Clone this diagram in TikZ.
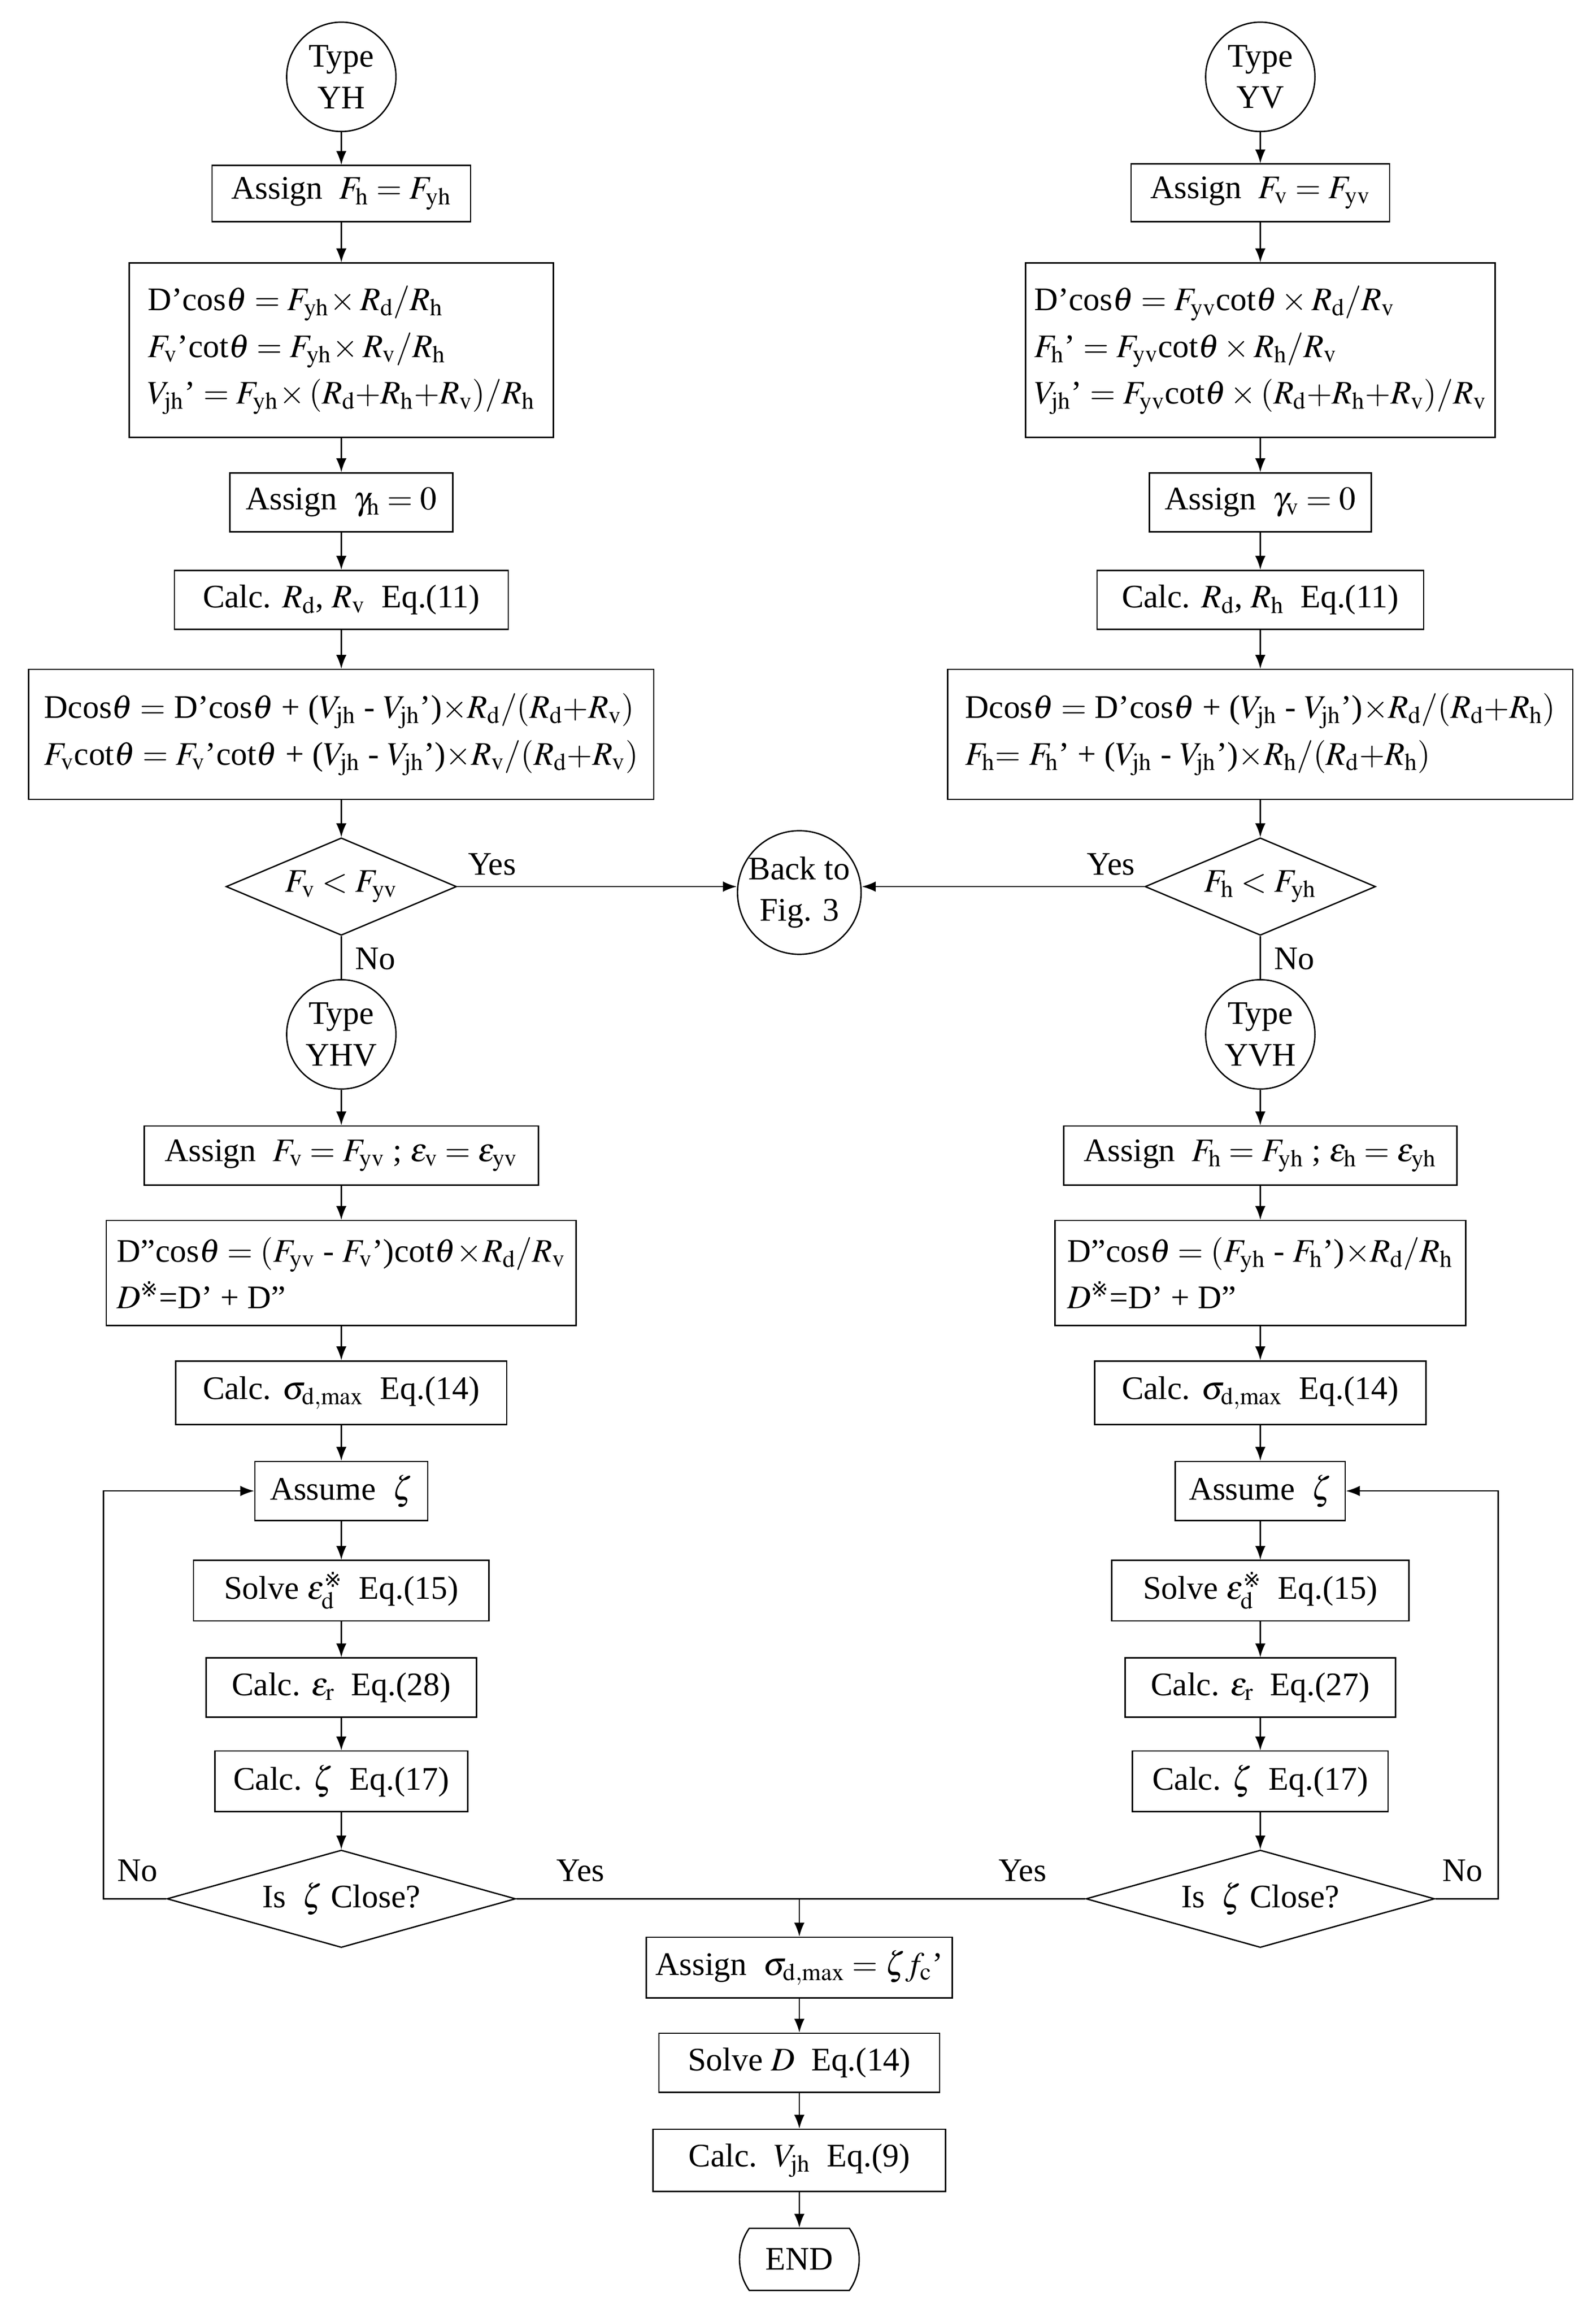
\documentclass[tikz,border=0pt]{standalone}
\usepackage{mathptmx}
\usepackage[no-math]{fontspec}
\setmainfont{Liberation Serif}
\newfontfamily\djv{DejaVu Sans}
\usetikzlibrary{shapes.geometric,shapes.misc,arrows.meta}
\newcommand\kome{\mbox{\fontsize{12}{12}\djv ※}}
\newcommand\mr[1]{\mathrm{#1}}
\begin{document}
\begin{tikzpicture}[x=0.03cm,y=-0.03cm,line width=0.8pt,
  every node/.style={font=\fontsize{19}{27}\selectfont,inner sep=0pt},
  bx/.style={draw,rectangle,minimum height=1.2cm,align=left},
  cir/.style={draw,circle,minimum size=2.22cm,align=center,font=\fontsize{19}{24}\selectfont},
  dia/.style={draw,diamond,inner sep=0pt},
  lbl/.style={font=\fontsize{19}{24}\selectfont},
  ar/.style={-{Latex[length=8pt,width=6pt]}}]
\useasboundingbox (0,0) rectangle (1080,1566);
% left column
\node[cir] (l0) at (231,52) {Type\\YH};
\node[bx,minimum width=5.25cm,minimum height=1.14cm] (l1) at (231,131) {Assign\ \ $F_{\mr h}=F_{\mr{yh}}$};
\node[bx,minimum width=8.61cm,minimum height=3.54cm] (l2) at (231,237) {D'cos$\theta=F_{\mr{yh}}\!\times R_{\mr d}/R_{\mr h}$\\$F_{\mr v}$'cot$\theta=F_{\mr{yh}}\!\times R_{\mr v}/R_{\mr h}$\\$V_{\mr{jh}}$' $=F_{\mr{yh}}\!\times(R_{\mr d}{+}R_{\mr h}{+}R_{\mr v})/R_{\mr h}$};
\node[bx,minimum width=4.53cm] (l3) at (231,340) {Assign\ \ $\gamma_{\mr h}=0$};
\node[bx,minimum width=6.78cm] (l4) at (231,406) {Calc. $R_{\mr d}$, $R_{\mr v}$\ \ Eq.(11)};
\node[bx,minimum width=12.69cm,minimum height=2.64cm] (l5) at (231,497) {Dcos$\theta=$ D'cos$\theta$ + ($V_{\mr{jh}}$ - $V_{\mr{jh}}$')$\times R_{\mr d}/(R_{\mr d}{+}R_{\mr v})$\\$F_{\mr v}$cot$\theta=F_{\mr v}$'cot$\theta$ + ($V_{\mr{jh}}$ - $V_{\mr{jh}}$')$\times R_{\mr v}/(R_{\mr d}{+}R_{\mr v})$};
\node[dia,minimum width=4.68cm,minimum height=1.98cm,aspect=2.36] (l6) at (231,600) {$F_{\mr v}<F_{\mr{yv}}$};
\node[cir] (l7) at (231,700) {Type\\YHV};
\node[bx,minimum width=8.01cm] (l8) at (231,782) {Assign\ \ $F_{\mr v}=F_{\mr{yv}}$ ; $\varepsilon_{\mr v}=\varepsilon_{\mr{yv}}$};
\node[bx,minimum width=9.54cm,minimum height=2.13cm] (l9) at (231,861.5) {D''cos$\theta=(F_{\mr{yv}}$ - $F_{\mr v}$')cot$\theta\!\times\! R_{\mr d}/R_{\mr v}$\\$D^{\kome}$=D' + D''};
\node[bx,minimum width=6.72cm,minimum height=1.29cm] (l10) at (231,942.5) {Calc. $\sigma_{\mr{d,max}}$\ \ Eq.(14)};
\node[bx,minimum width=3.51cm] (l11) at (231,1009) {Assume\ \ $\zeta$};
\node[bx,minimum width=6.0cm,minimum height=1.23cm] (l12) at (231,1076.5) {Solve $\varepsilon^{\kome}_{\mr d}$\ \ Eq.(15)};
\node[bx,minimum width=5.49cm] (l13) at (231,1142) {Calc. $\varepsilon_{\mr r}$\ \ Eq.(28)};
\node[bx,minimum width=5.13cm,minimum height=1.23cm] (l14) at (231,1205.5) {Calc. $\zeta$\ \ Eq.(17)};
\node[dia,minimum width=7.08cm,minimum height=1.98cm,aspect=3.58] (l15) at (231,1285) {Is\ \ $\zeta$ Close?};
% right column
\node[cir] (r0) at (853,52) {Type\\YV};
\node[bx,minimum width=5.25cm,minimum height=1.17cm] (r1) at (853,130.5) {Assign\ \ $F_{\mr v}=F_{\mr{yv}}$};
\node[bx,minimum width=9.54cm,minimum height=3.54cm] (r2) at (853,237) {D'cos$\theta=F_{\mr{yv}}$cot$\theta\times R_{\mr d}/R_{\mr v}$\\$F_{\mr h}$' $=F_{\mr{yv}}$cot$\theta\times R_{\mr h}/R_{\mr v}$\\$V_{\mr{jh}}$' $=F_{\mr{yv}}$cot$\theta\times(R_{\mr d}{+}R_{\mr h}{+}R_{\mr v})/R_{\mr v}$};
\node[bx,minimum width=4.5cm] (r3) at (853,340) {Assign\ \ $\gamma_{\mr v}=0$};
\node[bx,minimum width=6.63cm] (r4) at (853,406) {Calc. $R_{\mr d}$, $R_{\mr h}$\ \ Eq.(11)};
\node[bx,minimum width=12.69cm,minimum height=2.64cm] (r5) at (853,497) {Dcos$\theta=$ D'cos$\theta$ + ($V_{\mr{jh}}$ - $V_{\mr{jh}}$')$\times R_{\mr d}/(R_{\mr d}{+}R_{\mr h})$\\$F_{\mr h}{=}\ F_{\mr h}$' + ($V_{\mr{jh}}$ - $V_{\mr{jh}}$')$\times R_{\mr h}/(R_{\mr d}{+}R_{\mr h})$};
\node[dia,minimum width=4.68cm,minimum height=1.98cm,aspect=2.36] (r6) at (853,600) {$F_{\mr h}<F_{\mr{yh}}$};
\node[cir] (r7) at (853,700) {Type\\YVH};
\node[bx,minimum width=7.98cm] (r8) at (853,782) {Assign\ \ $F_{\mr h}=F_{\mr{yh}}$ ; $\varepsilon_{\mr h}=\varepsilon_{\mr{yh}}$};
\node[bx,minimum width=8.34cm,minimum height=2.13cm] (r9) at (853,861.5) {D''cos$\theta=(F_{\mr{yh}}$ - $F_{\mr h}$')$\times R_{\mr d}/R_{\mr h}$\\$D^{\kome}$=D' + D''};
\node[bx,minimum width=6.72cm,minimum height=1.29cm] (r10) at (853,942.5) {Calc. $\sigma_{\mr{d,max}}$\ \ Eq.(14)};
\node[bx,minimum width=3.45cm] (r11) at (853,1009) {Assume\ \ $\zeta$};
\node[bx,minimum width=6.03cm,minimum height=1.23cm] (r12) at (853,1076.5) {Solve $\varepsilon^{\kome}_{\mr d}$\ \ Eq.(15)};
\node[bx,minimum width=5.49cm] (r13) at (853,1142) {Calc. $\varepsilon_{\mr r}$\ \ Eq.(27)};
\node[bx,minimum width=5.19cm,minimum height=1.23cm] (r14) at (853,1205.5) {Calc. $\zeta$\ \ Eq.(17)};
\node[dia,minimum width=7.08cm,minimum height=1.98cm,aspect=3.58] (r15) at (853,1285) {Is\ \ $\zeta$ Close?};
% middle
\node[draw,circle,minimum size=2.46cm,align=center,font=\fontsize{19}{24}\selectfont] (bk) at (541,604) {Back to\\Fig. 3};
\coordinate (m) at (541,1285);
\node[bx,minimum width=6.21cm,minimum height=1.23cm] (c1) at (541,1331.5) {Assign\ \ $\sigma_{\mr{d,max}}=\zeta f_{\mr c}$'};
\node[bx,minimum width=5.7cm] (c2) at (541,1396) {Solve $D$\ \ Eq.(14)};
\node[bx,minimum width=5.94cm,minimum height=1.26cm] (c3) at (541,1462) {Calc.\ \ $V_{\mr{jh}}$\ \ Eq.(9)};
\node[draw,rounded rectangle,rounded rectangle arc length=70,minimum width=2.43cm,minimum height=1.26cm] (end) at (541,1529) {END};
% connectors
\foreach \a/\b in {l0/l1,l1/l2,l2/l3,l3/l4,l4/l5,l5/l6,l7/l8,l8/l9,l9/l10,l10/l11,l11/l12,l12/l13,l13/l14,l14/l15,
  r0/r1,r1/r2,r2/r3,r3/r4,r4/r5,r5/r6,r7/r8,r8/r9,r9/r10,r10/r11,r11/r12,r12/r13,r13/r14,r14/r15,
  c1/c2,c2/c3,c3/end} \draw[ar] (\a) -- (\b);
\draw (l6) -- (l7);
\draw (r6) -- (r7);
\draw[ar] (l6.east) -- (l6.east -| bk.west);
\draw[ar] (r6.west) -- (r6.west -| bk.east);
\draw (l15.east) -- (r15.west);
\draw[ar] (m) -- (c1.north -| m);
\coordinate (lc) at (70,1285);
\coordinate (rc) at (1014,1285);
\draw[ar] (l15.west) -- (lc) |- (l11.west);
\draw[ar] (r15.east) -- (rc) |- (r11.east);
% labels
\node[lbl] at (333,585) {Yes};
\node[lbl] at (254,649) {No};
\node[lbl] at (752,585) {Yes};
\node[lbl] at (876,649) {No};
\node[lbl] at (93,1266) {No};
\node[lbl] at (393,1266) {Yes};
\node[lbl] at (692,1266) {Yes};
\node[lbl] at (990,1266) {No};
\end{tikzpicture}
\end{document}
